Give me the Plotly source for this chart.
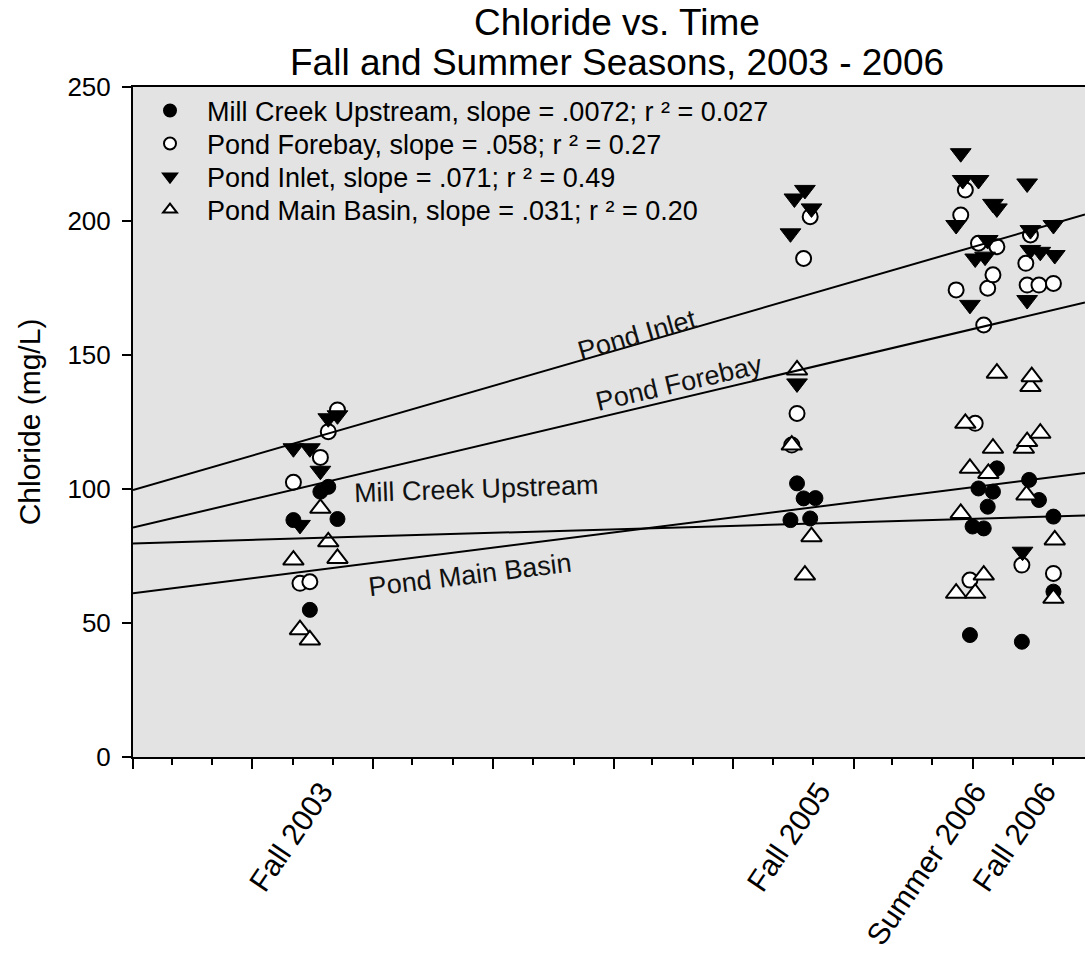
import plotly.graph_objects as go
from datetime import date

FONT = "Liberation Sans, Arial, sans-serif"

# ---- sampling data: chloride (mg/L) by site ----
mill_dates = ["2003-09-02", "2003-09-27", "2003-10-13", "2003-10-25", "2003-11-08",
              "2005-09-27", "2005-10-07", "2005-10-17", "2005-10-27", "2005-11-04",
              "2006-06-27", "2006-07-01", "2006-07-10", "2006-07-18", "2006-07-24",
              "2006-08-01", "2006-08-07", "2006-09-14", "2006-09-25", "2006-10-10",
              "2006-11-01", "2006-11-01"]
mill_values = [88.4, 54.9, 99.0, 100.8, 88.8,
               88.4, 102.1, 96.5, 89.0, 96.6,
               45.5, 86.0, 100.2, 85.3, 93.4,
               99.0, 107.7, 43.0, 103.4, 95.9,
               89.7, 61.7]

forebay_dates = ["2003-09-02", "2003-09-12", "2003-09-27", "2003-10-13", "2003-10-25", "2003-11-08",
                 "2005-09-29", "2005-10-07", "2005-10-17", "2005-10-27",
                 "2006-06-06", "2006-06-13", "2006-06-20", "2006-06-27", "2006-07-05",
                 "2006-07-10", "2006-07-18", "2006-07-24", "2006-08-01", "2006-08-07",
                 "2006-09-14", "2006-09-20", "2006-09-22", "2006-09-27", "2006-10-10",
                 "2006-11-01", "2006-11-01"]
forebay_values = [102.5, 64.8, 65.4, 111.8, 121.4, 129.5,
                  116.4, 128.2, 186.0, 201.6,
                  174.3, 202.2, 211.6, 66.0, 124.5,
                  191.7, 161.2, 174.9, 179.9, 190.4,
                  71.6, 184.2, 176.1, 194.8, 176.1,
                  176.7, 68.5]

inlet_dates = ["2003-09-02", "2003-09-12", "2003-09-27", "2003-10-13", "2003-10-25", "2003-11-08",
               "2005-09-27", "2005-10-03", "2005-10-07", "2005-10-19", "2005-10-29",
               "2006-06-06", "2006-06-13", "2006-06-16", "2006-06-27", "2006-07-05",
               "2006-07-10", "2006-07-20", "2006-07-24", "2006-08-01", "2006-08-07",
               "2006-09-15", "2006-09-22", "2006-09-22", "2006-09-27", "2006-09-27",
               "2006-10-12", "2006-11-01", "2006-11-03"]
inlet_values = [115.2, 86.6, 115.2, 106.8, 126.4, 127.5,
                195.4, 208.4, 139.4, 211.6, 204.7,
                198.5, 225.3, 215.3, 168.7, 186.0,
                215.3, 186.7, 192.9, 206.4, 204.7,
                76.6, 214.0, 170.5, 196.6, 189.2,
                188.5, 198.5, 187.3]

basin_dates = ["2003-09-02", "2003-09-12", "2003-09-27", "2003-10-13", "2003-10-25", "2003-11-08",
               "2005-09-29", "2005-10-07", "2005-10-19", "2005-10-29",
               "2006-06-06", "2006-06-13", "2006-06-20", "2006-06-27", "2006-07-05",
               "2006-07-18", "2006-07-25", "2006-08-01", "2006-08-07",
               "2006-09-17", "2006-09-21", "2006-09-22", "2006-09-27", "2006-09-29",
               "2006-10-12", "2006-11-01", "2006-11-03"]
basin_values = [73.5, 47.5, 43.7, 92.8, 80.3, 74.1,
                116.4, 144.4, 67.9, 82.2,
                61.1, 90.9, 124.5, 107.7, 61.1,
                67.9, 105.8, 115.2, 143.2,
                115.2, 97.8, 117.7, 138.2, 141.9,
                120.8, 59.2, 81.0]

# ---- linear fits: slope in mg/L per day, intercept = fitted value on the origin date ----
fit_origin = date(2003, 1, 1)
site_names = ["Mill Creek Upstream", "Pond Forebay", "Pond Inlet", "Pond Main Basin"]
fit_slopes = [0.0072, 0.058, 0.071, 0.031]
fit_intercepts = [79.7, 85.6, 99.6, 61.1]
r_squared = ["0.027", "0.27", "0.49", "0.20"]
slope_text = [".0072", ".058", ".071", ".031"]

# in-plot line labels: anchor date and level (mg/L)
label_dates = ["2004-06-06", "2005-04-11", "2005-02-06", "2004-05-27"]
label_levels = [100.0, 139.6, 157.5, 67.9]
label_angles = [-2, -13, -16, -7]

season_labels = ["Fall 2003", "Fall 2005", "Summer 2006", "Fall 2006"]
season_dates = ["2003-10-15", "2005-11-10", "2006-07-05", "2006-10-19"]

x_start = date(2003, 1, 1)
x_end = date(2006, 12, 19)

series = [
    (mill_dates, mill_values, dict(symbol="circle", size=15, color="black",
                                   line=dict(color="black", width=1))),
    (forebay_dates, forebay_values, dict(symbol="circle", size=15, color="white",
                                         line=dict(color="black", width=2))),
    (inlet_dates, inlet_values, dict(symbol="triangle-down", size=18, color="black",
                                     line=dict(color="black", width=1))),
    (basin_dates, basin_values, dict(symbol="triangle-up", size=18, color="white",
                                     line=dict(color="black", width=2))),
]

fig = go.Figure()

# regression lines (drawn first so markers sit on top)
for slope, icpt in zip(fit_slopes, fit_intercepts):
    xs = [x_start, x_end]
    ys = [icpt + slope * (d - fit_origin).days for d in xs]
    fig.add_trace(go.Scatter(x=[d.isoformat() for d in xs], y=ys, mode="lines",
                             line=dict(color="black", width=2),
                             showlegend=False, hoverinfo="skip", xaxis="x2"))

# one legend box per site so each row can be placed independently
legend_ids = ["legend", "legend2", "legend3", "legend4"]
legend_rows_px = [111, 144, 177, 210]   # row centres, pixels from top of page
PLOT_TOP, PLOT_BOTTOM = 87, 757

for (xd, yv, mk), name, s, r2, lid in zip(series, site_names, slope_text, r_squared, legend_ids):
    fig.add_trace(go.Scatter(
        x=xd, y=yv, mode="markers", marker=mk, legend=lid,
        name=f"{name}, slope = {s}; r \u00b2 = {r2}"))

# labels along the fitted lines
for name, d, lv, ang in zip(site_names, label_dates, label_levels, label_angles):
    fig.add_annotation(x=d, y=lv, text=name, showarrow=False, textangle=ang,
                       font=dict(family=FONT, size=27, color="#111111"))

# two-line title
title_lines = ["Chloride vs. Time", "Fall and Summer Seasons, 2003 - 2006"]
title_centres_px = [23, 62]
for txt, yc in zip(title_lines, title_centres_px):
    fig.add_annotation(xref="paper", yref="paper", x=(617 - 133) / (1085 - 133),
                       y=(PLOT_BOTTOM - yc) / (PLOT_BOTTOM - PLOT_TOP),
                       xanchor="center", yanchor="middle", text=txt, showarrow=False,
                       font=dict(family=FONT, size=37, color="black"))

legend_layout = {}
for lid, ypx in zip(legend_ids, legend_rows_px):
    legend_layout[lid] = dict(
        x=0, y=(PLOT_BOTTOM - ypx) / (PLOT_BOTTOM - PLOT_TOP),
        xanchor="left", yanchor="middle", bgcolor="rgba(0,0,0,0)",
        itemwidth=64, itemsizing="constant", borderwidth=0,
        font=dict(family=FONT, size=27, color="black"))

fig.update_layout(
    width=1085, height=959,
    margin=dict(l=133, r=0, t=PLOT_TOP, b=959 - PLOT_BOTTOM),
    paper_bgcolor="white",
    plot_bgcolor="#e3e3e3",
    font=dict(family=FONT, size=26, color="black"),
    showlegend=True,
    **legend_layout,
    xaxis=dict(
        type="date", range=[x_start.isoformat(), x_end.isoformat()],
        tickmode="array", tickvals=season_dates, ticktext=season_labels,
        tickangle=-56, ticks="", ticklabelstandoff=3,
        tickfont=dict(family=FONT, size=30, color="black"),
        showgrid=False, zeroline=False,
        showline=True, linecolor="black", linewidth=2, mirror=True,
    ),
    xaxis2=dict(
        type="date", range=[x_start.isoformat(), x_end.isoformat()],
        overlaying="x", anchor="y", side="bottom",
        tick0="2003-01-01", dtick="M6", ticks="outside", ticklen=11,
        tickwidth=2, tickcolor="black",
        minor=dict(dtick="M2", tick0="2003-01-01", ticks="outside", ticklen=7,
                   tickwidth=2, tickcolor="black", showgrid=False),
        showticklabels=False, showgrid=False, zeroline=False, showline=False,
    ),
    yaxis=dict(
        range=[0, 250], tick0=0, dtick=50, ticks="outside", ticklen=9,
        tickwidth=2, tickcolor="black", ticklabelstandoff=6,
        showgrid=False, zeroline=False,
        showline=True, linecolor="black", linewidth=2,
        title=dict(text="Chloride (mg/L)", standoff=18,
                   font=dict(family=FONT, size=30, color="black")),
        tickfont=dict(family=FONT, size=26, color="black"),
    ),
)

fig.write_html("out.html")
